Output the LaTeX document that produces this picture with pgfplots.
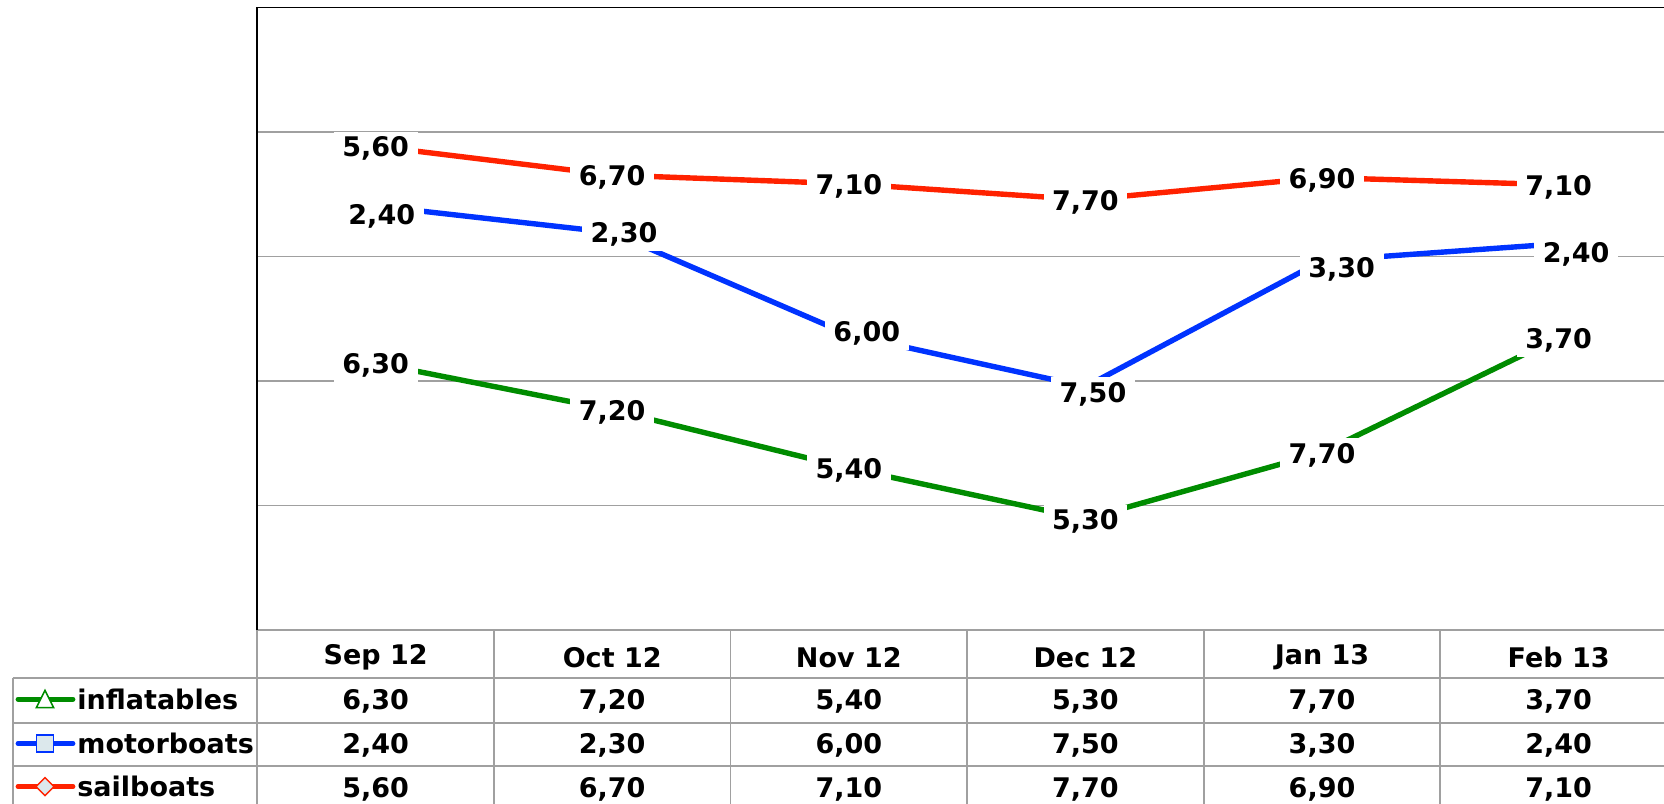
\documentclass[border=0pt]{standalone}
\usepackage{pgfplots}
\pgfplotsset{compat=1.18}
\usepackage{pgfplotstable}
\usepackage{fontspec}
\setmainfont{DejaVu Sans}
\definecolor{cgreen}{RGB}{0,140,0}
\definecolor{cblue}{RGB}{0,51,255}
\definecolor{cred}{RGB}{255,34,0}
\definecolor{cgrid}{RGB}{160,160,160}
\definecolor{mfill}{RGB}{220,232,236}

\pgfplotstableread{
x g b r gl rl
0 10.72 17.03 19.43 6,30 5,60
1 8.84 15.96 18.27 7,20 6,70
2 6.50 11.86 17.92 5,40 7,10
3 4.46 9.77 17.28 5,30 7,70
4 7.13 14.83 18.17 7,70 6,90
5 11.74 15.51 17.88 3,70 7,10
}\data

\pgfplotstableread{
x y l
0.026 16.70 2,40
1.050 16.01 2,30
2.076 12.03 6,00
3.032 9.58 7,50
4.083 14.59 3,30
5.074 15.19 2,40
}\bluelab

\begin{document}
\begin{tikzpicture}[font=\fontsize{13.5}{16}\selectfont\bfseries]
\path[use as bounding box] (0,0) rectangle (832pt,-401.5pt);
\clip (0,0) rectangle (832pt,-401.5pt);
\begin{axis}[
  at={(128.65pt,-315pt)}, anchor=south west,
  scale only axis, width=709.8pt, height=311.25pt,
  xmin=-0.5, xmax=5.5, ymin=0, ymax=25,
  xtick=\empty, ytick={5,10,15,20}, yticklabels={},
  major tick length=0pt,
  ymajorgrids, grid style={cgrid, line width=0.75pt},
  axis line style={draw=none},
  every axis plot/.append style={line width=2.7pt, mark=none},
  lab/.style={draw=none, nodes near coords, nodes near coords align=center,
    point meta=explicit symbolic,
    every node near coord/.append style={anchor=center, fill=white, text=black,
      inner xsep=4.3pt, inner ysep=2.5pt, yshift=-1.3pt,
      font=\fontsize{13.5}{16}\selectfont\bfseries}},
]
\addplot[cgreen] table[x=x,y=g] {\data};
\addplot[cblue] table[x=x,y=b] {\data};
\addplot[cred] table[x=x,y=r] {\data};
\addplot[lab] table[x=x,y=g,meta=gl] {\data};
\addplot[lab] table[x=x,y=y,meta=l] {\bluelab};
\addplot[lab] table[x=x,y=r,meta=rl] {\data};
\end{axis}
% data table grid
\begin{scope}[cgrid, line width=0.9pt]
\draw (128.65pt,-315pt) -- (840pt,-315pt);
\draw (6.35pt,-339.15pt) -- (840pt,-339.15pt);
\draw (6.35pt,-361.35pt) -- (840pt,-361.35pt);
\draw (6.35pt,-383pt) -- (840pt,-383pt);
\draw (6.35pt,-339.15pt) -- (6.35pt,-410pt);
\foreach \xx in {128.65,246.95,365.25,483.55,601.85,720.15}
  \draw (\xx pt,-315pt) -- (\xx pt,-410pt);
\end{scope}
\draw[black, line width=0.85pt] (128.65pt,-315pt) -- (128.65pt,-3.75pt) -- (840pt,-3.75pt);
% header row
\node at (187.8pt,-328.8pt) {Sep 12};
\node at (306.1pt,-328.8pt) {Oct 12};
\node at (424.4pt,-328.8pt) {Nov 12};
\node at (542.7pt,-328.8pt) {Dec 12};
\node at (661.0pt,-328.8pt) {Jan 13};
\node at (779.3pt,-328.8pt) {Feb 13};
% inflatables
\node at (187.8pt,-350.8pt) {6,30};
\node at (306.1pt,-350.8pt) {7,20};
\node at (424.4pt,-350.8pt) {5,40};
\node at (542.7pt,-350.8pt) {5,30};
\node at (661.0pt,-350.8pt) {7,70};
\node at (779.3pt,-350.8pt) {3,70};
% motorboats
\node at (187.8pt,-372.7pt) {2,40};
\node at (306.1pt,-372.7pt) {2,30};
\node at (424.4pt,-372.7pt) {6,00};
\node at (542.7pt,-372.7pt) {7,50};
\node at (661.0pt,-372.7pt) {3,30};
\node at (779.3pt,-372.7pt) {2,40};
% sailboats
\node at (187.8pt,-394.6pt) {5,60};
\node at (306.1pt,-394.6pt) {6,70};
\node at (424.4pt,-394.6pt) {7,10};
\node at (542.7pt,-394.6pt) {7,70};
\node at (661.0pt,-394.6pt) {6,90};
\node at (779.3pt,-394.6pt) {7,10};
% legend column
\draw[cgreen, line width=2.4pt, line cap=round] (9pt,-349.6pt) -- (36.5pt,-349.6pt);
\draw[cgreen, fill=white, line width=0.75pt] (18.2pt,-353.8pt) -- (26.8pt,-353.8pt) -- (22.5pt,-345.2pt) -- cycle;
\node[anchor=west, inner sep=0pt] at (38.5pt,-349.6pt) {inflatables};
\draw[cblue, line width=2.4pt, line cap=round] (9pt,-371.8pt) -- (36.5pt,-371.8pt);
\draw[cblue, fill=mfill, line width=0.75pt] (18.3pt,-376pt) rectangle (26.7pt,-367.6pt);
\node[anchor=west, inner sep=0pt] at (38.5pt,-371.8pt) {motorboats};
\draw[cred, line width=2.4pt, line cap=round] (9pt,-393.3pt) -- (36.5pt,-393.3pt);
\draw[cred, fill=mfill, line width=0.75pt] (22.5pt,-397.8pt) -- (27pt,-393.3pt) -- (22.5pt,-388.8pt) -- (18pt,-393.3pt) -- cycle;
\node[anchor=west, inner sep=0pt] at (38.5pt,-393.3pt) {sailboats};
\end{tikzpicture}
\end{document}
